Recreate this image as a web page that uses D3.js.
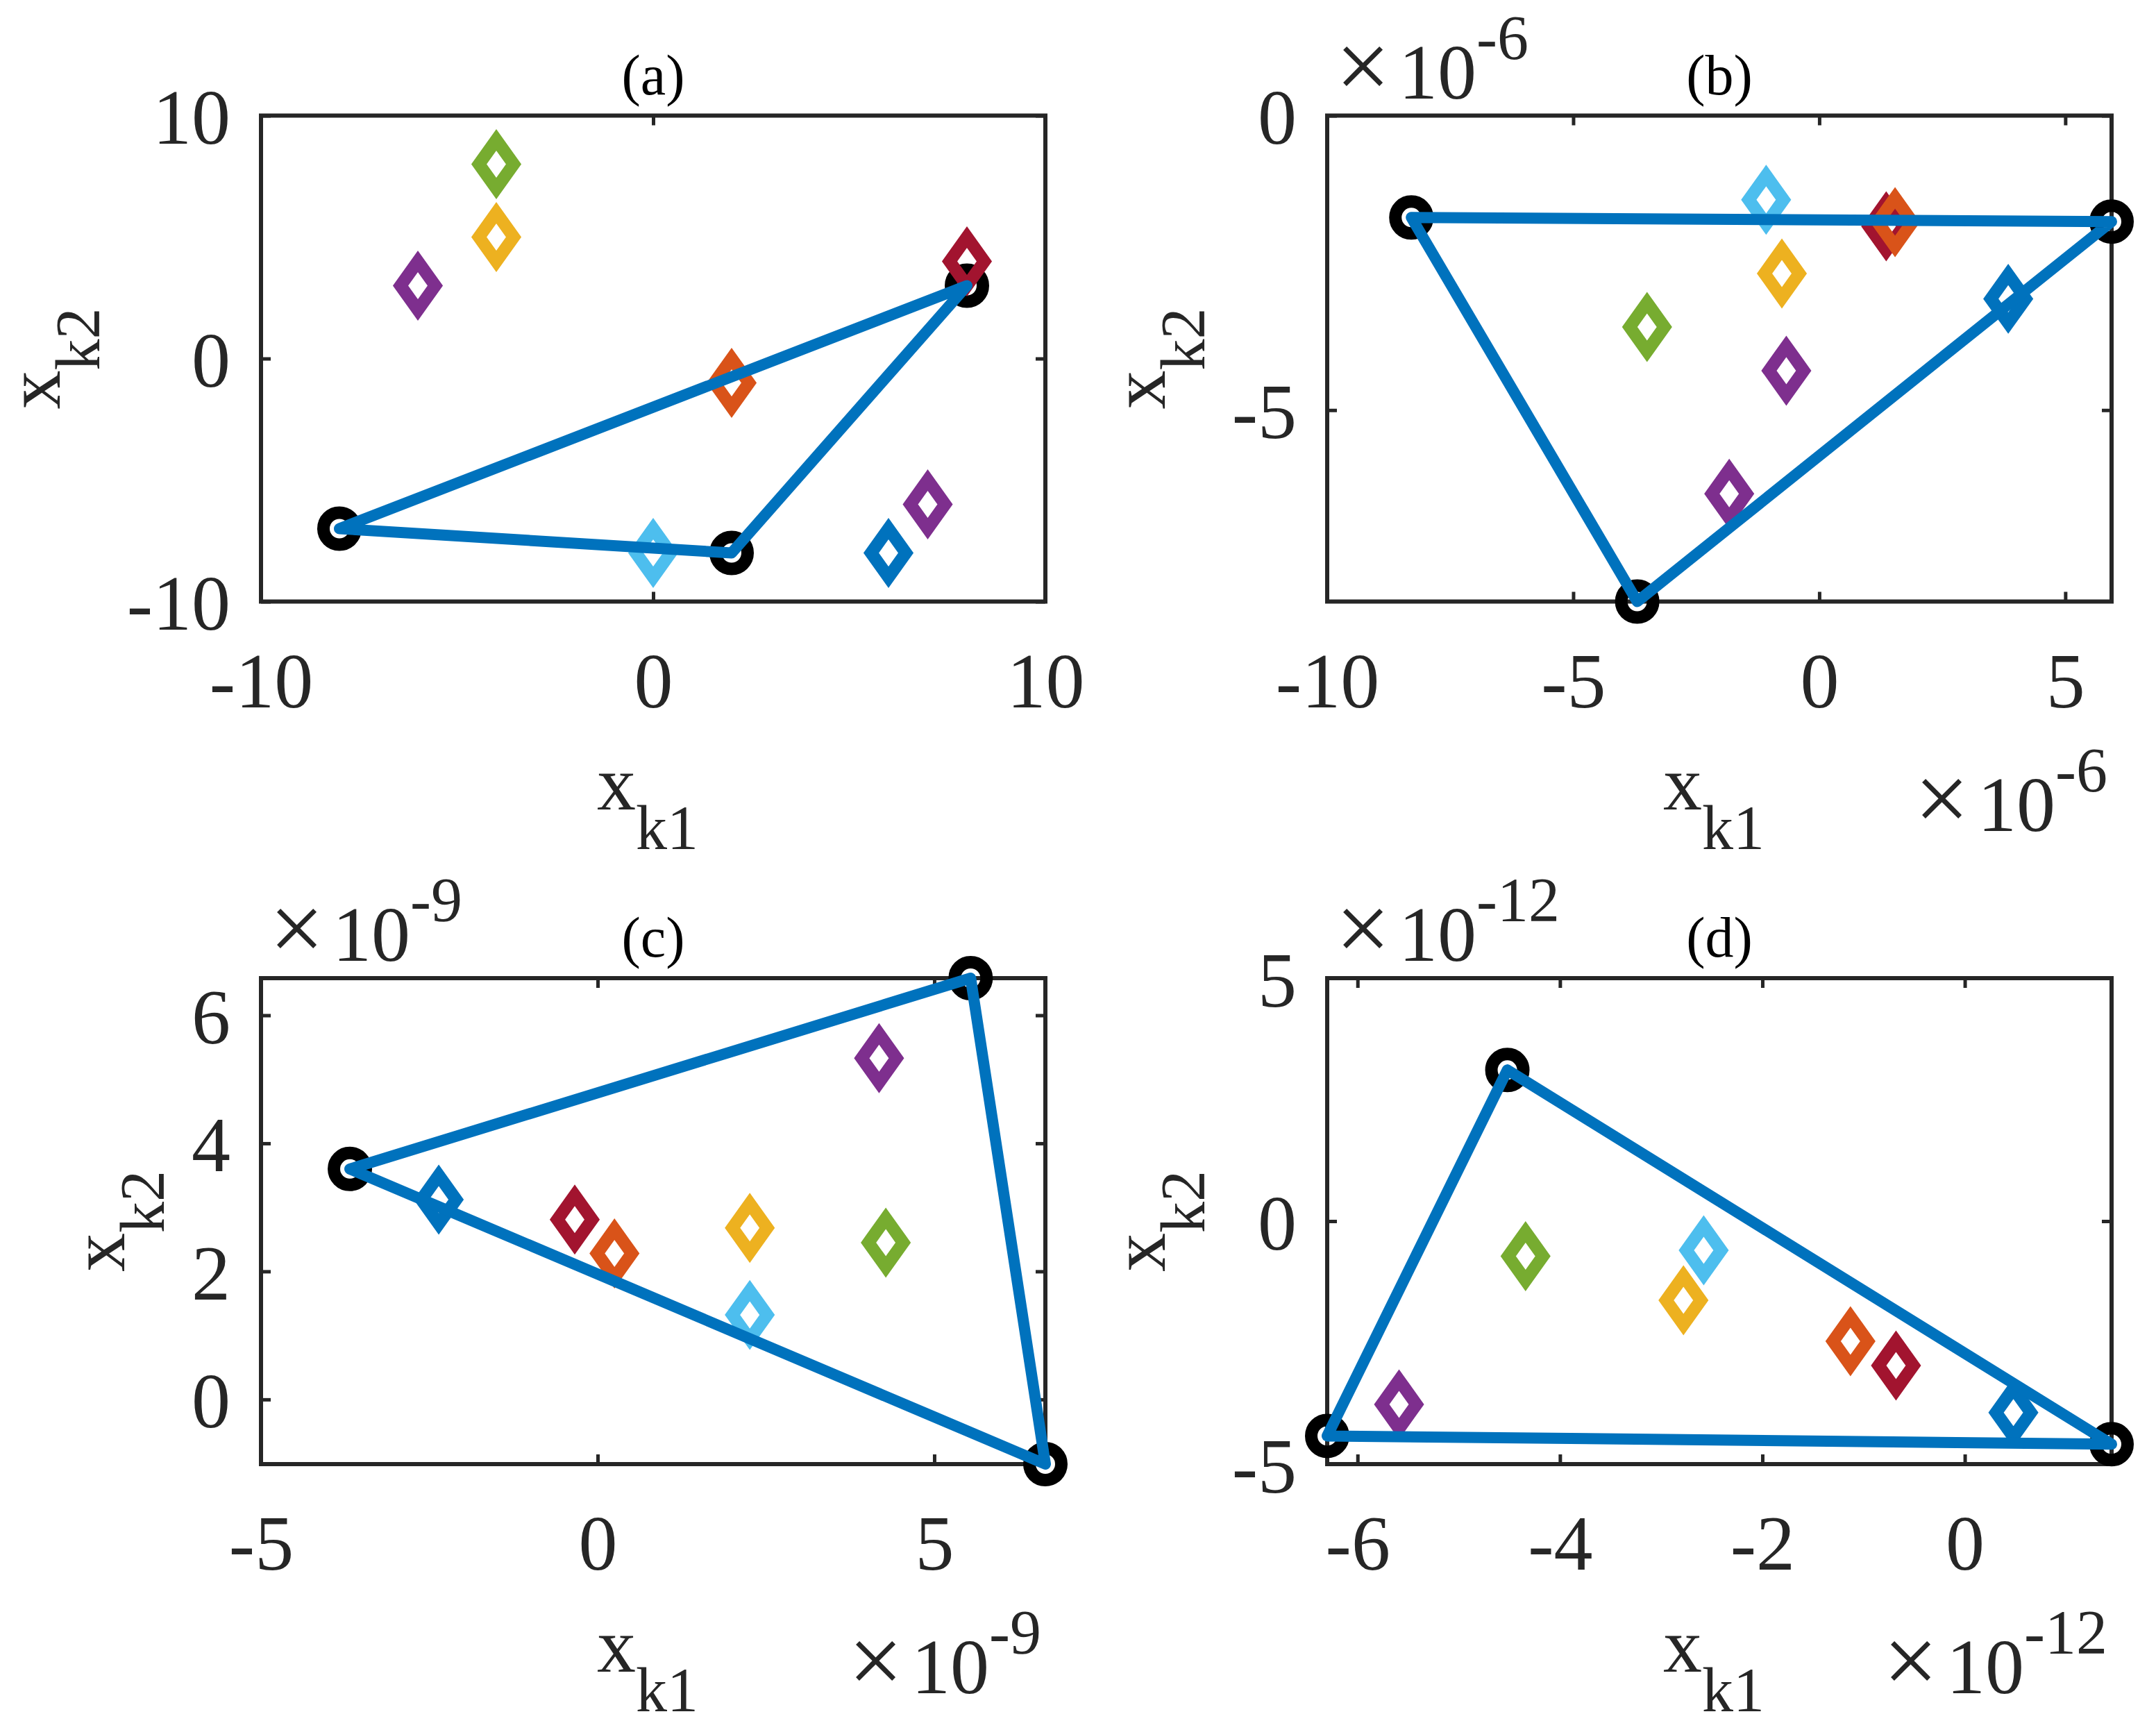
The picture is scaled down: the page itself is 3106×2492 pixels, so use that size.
<!DOCTYPE html>
<html>
<head>
<meta charset="utf-8">
<script src="https://cdn.jsdelivr.net/npm/d3@7"></script>
<style>
  body { margin: 0; background: #fff; }
  text { font-family: "Liberation Serif", "Times New Roman", serif; }
</style>
</head>
<body>
<div id="chart-container"></div>
<script>
// values (units of 10^exponent)
var panelTitles = ["(a)", "(b)", "(c)", "(d)"];
var exponents = [0, -6, -9, -12];
var xLimits = [[-10, 10], [-10, 5.94], [-5, 6.65], [-6.3, 1.45]];
var yLimits = [[-10, 10], [-8.25, 0], [-1.01, 6.58], [-5, 5]];
var xTickValues = [[-10, 0, 10], [-10, -5, 0, 5], [-5, 0, 5], [-6, -4, -2, 0]];
var yTickValues = [[-10, 0, 10], [-5, 0], [0, 2, 4, 6], [-5, 0, 5]];

// triangle vertices (black circles joined by the blue line)
var vertexX = [[-8, 2, 8], [-8.29, 5.94, -3.7], [-3.68, 5.54, 6.65], [-4.52, -6.3, 1.45]];
var vertexY = [[-7, -8, 3], [-1.73, -1.8, -8.25], [3.6, 6.58, -1.01], [3.11, -4.42, -4.59]];

// diamond points
var diamondX = [
  [-6, -4, -4, 0, 6, 7, 8, 2],
  [-1.83, -0.67, -3.5, -0.76, -1.08, 1.36, 1.54, 3.84],
  [-2.36, -0.34, 0.25, 2.26, 2.26, 4.28, 4.18],
  [-5.59, -4.34, -2.58, -2.78, -1.13, -0.68, 0.48]
];
var diamondY = [
  [3, 8, 5, -8, -8, -6, 4, -1],
  [-6.42, -4.33, -3.59, -2.68, -1.43, -1.88, -1.81, -3.11],
  [3.12, 2.81, 2.28, 2.68, 1.32, 2.45, 5.33],
  [-3.77, -0.72, -0.6, -1.63, -2.47, -2.97, -3.94]
];
var diamondColor = [
  ["purple", "green", "yellow", "lightblue", "blue", "purple", "darkred", "orange"],
  ["purple", "purple", "green", "yellow", "lightblue", "darkred", "orange", "blue"],
  ["blue", "darkred", "orange", "yellow", "lightblue", "green", "purple"],
  ["purple", "green", "lightblue", "yellow", "orange", "darkred", "blue"]
];

var palette = {
  blue: "#0072BD",
  orange: "#D95319",
  yellow: "#EDB120",
  purple: "#7E2F8E",
  green: "#77AC30",
  lightblue: "#4DBEEE",
  darkred: "#A2142F"
};

var width = 3106,
  height = 2492;
var boxLeft = [376, 1912, 376, 1912],
  boxTop = [166.5, 166.5, 1409, 1409];
var boxWidth = 1130,
  boxHeight = 700;
var axisColor = "#262626";
var tickFont = 112,
  subFont = 90;

var svg = d3
  .select("#chart-container")
  .append("svg")
  .attr("width", width)
  .attr("height", height)
  .style("background", "#fff");

var lineFunction = d3
  .line()
  .x(function (d) { return d.x; })
  .y(function (d) { return d.y; });

function addExponent(sel, exp) {
  sel.append("tspan").attr("font-size", 140).text("\u00d7");
  sel.append("tspan").attr("dx", 12).text("10");
  sel.append("tspan").attr("font-size", subFont).attr("dy", -57).text(String(exp));
}

function drawPanel(i) {
  var g = svg
    .append("g")
    .attr("transform", "translate(" + boxLeft[i] + "," + boxTop[i] + ")");

  var x = d3.scaleLinear().domain(xLimits[i]).range([0, boxWidth]);
  var y = d3.scaleLinear().domain(yLimits[i]).range([boxHeight, 0]);

  // ticks on all four sides, pointing inwards
  var bottom = g
    .append("g")
    .attr("transform", "translate(0," + boxHeight + ")")
    .call(d3.axisBottom(x).tickValues(xTickValues[i]).tickSizeInner(-14).tickSizeOuter(0)
      .tickFormat(function (d) { return String(d); }));
  var top = g
    .append("g")
    .call(d3.axisTop(x).tickValues(xTickValues[i]).tickSizeInner(-14).tickSizeOuter(0).tickFormat(""));
  var left = g
    .append("g")
    .call(d3.axisLeft(y).tickValues(yTickValues[i]).tickSizeInner(-14).tickSizeOuter(0)
      .tickFormat(function (d) { return String(d); }));
  var right = g
    .append("g")
    .attr("transform", "translate(" + boxWidth + ",0)")
    .call(d3.axisRight(y).tickValues(yTickValues[i]).tickSizeInner(-14).tickSizeOuter(0).tickFormat(""));

  [bottom, top, left, right].forEach(function (a) {
    a.select(".domain").remove();
    a.selectAll(".tick line").attr("stroke", axisColor).attr("stroke-width", 5);
    a.attr("font-size", tickFont).attr("font-family", null);
  });
  bottom.selectAll(".tick text")
    .attr("fill", axisColor)
    .attr("y", 152)
    .attr("dy", null);
  left.selectAll(".tick text")
    .attr("fill", axisColor)
    .attr("x", -44)
    .attr("dy", null)
    .attr("y", 40);

  g.append("rect")
    .attr("width", boxWidth)
    .attr("height", boxHeight)
    .attr("fill", "none")
    .attr("stroke", axisColor)
    .attr("stroke-width", 6);

  // title
  g.append("text")
    .attr("x", boxWidth / 2)
    .attr("y", -31)
    .attr("text-anchor", "middle")
    .attr("font-size", 82)
    .attr("fill", "#000")
    .text(panelTitles[i]);

  // axis labels
  var xl = g.append("text")
    .attr("x", boxWidth / 2 - 8)
    .attr("y", boxHeight + 299)
    .attr("text-anchor", "middle")
    .attr("font-size", tickFont)
    .attr("fill", axisColor);
  xl.append("tspan").text("x");
  xl.append("tspan").attr("font-size", subFont).attr("dy", 57).text("k1");

  var minLeft = 0;
  left.selectAll(".tick text").each(function () {
    var b = this.getBBox();
    minLeft = Math.min(minLeft, b.x);
  });
  var yl = g.append("text")
    .attr("transform", "translate(" + (minLeft - 40 - 57) + "," + boxHeight / 2 + ") rotate(-90)")
    .attr("text-anchor", "middle")
    .attr("font-size", tickFont)
    .attr("fill", axisColor);
  yl.append("tspan").text("x");
  yl.append("tspan").attr("font-size", subFont).attr("dy", 57).text("k2");

  // exponent labels
  if (exponents[i] !== 0) {
    var ey = g.append("text")
      .attr("x", 12)
      .attr("y", -25)
      .attr("font-size", tickFont)
      .attr("fill", axisColor);
    addExponent(ey, exponents[i]);

    var ex = g.append("text")
      .attr("x", boxWidth - 6)
      .attr("y", boxHeight + 330)
      .attr("text-anchor", "end")
      .attr("font-size", tickFont)
      .attr("fill", axisColor);
    addExponent(ex, exponents[i]);
  }

  // black circle vertices
  var verts = vertexX[i].map(function (v, k) {
    return { x: x(v), y: y(vertexY[i][k]) };
  });
  g.selectAll(".vertex")
    .data(verts)
    .enter()
    .append("circle")
    .attr("class", "vertex")
    .attr("cx", function (d) { return d.x; })
    .attr("cy", function (d) { return d.y; })
    .attr("r", 23)
    .attr("fill", "none")
    .attr("stroke", "#000")
    .attr("stroke-width", 18);

  // diamonds
  var dw = 25,
    dh = 35;
  g.selectAll(".diamond")
    .data(diamondX[i].map(function (v, k) {
      return { x: x(v), y: y(diamondY[i][k]), c: palette[diamondColor[i][k]] };
    }))
    .enter()
    .append("path")
    .attr("class", "diamond")
    .attr("d", function (d) {
      return "M" + d.x + "," + (d.y - dh) + "L" + (d.x + dw) + "," + d.y +
        "L" + d.x + "," + (d.y + dh) + "L" + (d.x - dw) + "," + d.y + "Z";
    })
    .attr("fill", "none")
    .attr("stroke", function (d) { return d.c; })
    .attr("stroke-width", 18)
    .attr("stroke-linejoin", "miter")
    .attr("stroke-miterlimit", 10);

  // blue triangle
  g.append("path")
    .attr("d", lineFunction(verts.concat([verts[0]])))
    .attr("fill", "none")
    .attr("stroke", palette.blue)
    .attr("stroke-width", 16)
    .attr("stroke-linejoin", "round")
    .attr("stroke-linecap", "round");
}

for (var i = 0; i < 4; i++) drawPanel(i);
</script>
</body>
</html>
